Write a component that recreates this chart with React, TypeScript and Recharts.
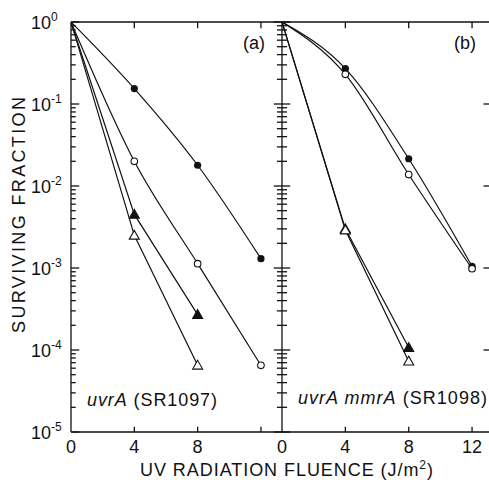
import React from 'react';
import { LineChart, Line, XAxis, YAxis, ReferenceLine } from 'recharts';

// UV fluence (J/m2)
const fluence = [0, 4, 8, 12];
const fluenceShort = [0, 4, 8];

// panel (a) uvrA (SR1097)
const aFilledCircle = [1, 0.154, 0.0179, 0.0013];
const aOpenCircle = [1, 0.02, 0.00113, 0.000065];
const aFilledTriangle = [1, 0.0045, 0.00027];
const aOpenTriangle = [1, 0.0025, 0.000065];

// panel (b) uvrA mmrA (SR1098)
const bFilledCircle = [1, 0.27, 0.0215, 0.00105];
const bOpenCircle = [1, 0.23, 0.0138, 0.00098];
const bFilledTriangle = [1, 0.003, 0.000107];
const bOpenTriangle = [1, 0.0029, 0.000073];

const decades = [1e-5, 1e-4, 1e-3, 1e-2, 1e-1, 1];
const innerDecades = [1e-4, 1e-3, 1e-2, 1e-1];
const xLabelsA = [0, 4, 8];
const xLabelsB = [0, 4, 8, 12];
const edgeTicks = [4, 8, 12];

const minorTicks: number[] = [];
decades.forEach((d) => {
  if (d < 1) for (let m = 2; m <= 9; m++) minorTicks.push(+(d * m).toPrecision(3));
});

const INK = '#111';
const FONT = '"Liberation Sans", Arial, sans-serif';
const X_MAX_A = 13.33;
const X_MAX_B = 13.07;
const Y_DOMAIN: [number, number] = [1e-5, 1];

const toData = (xs: number[], ys: number[]) => xs.map((x, i) => ({ x, y: ys[i] }));

type Kind = 'fc' | 'oc' | 'ft' | 'ot';

const makeDot = (kind: Kind) => (props: any) => {
  const { cx, cy, payload, index } = props;
  const key = `${kind}-${index}`;
  if (payload.x === 0 || cx == null || cy == null) return <g key={key} />;
  if (kind === 'fc') return <circle key={key} cx={cx} cy={cy} r={3.6} fill={INK} />;
  if (kind === 'oc')
    return <circle key={key} cx={cx} cy={cy} r={3.3} fill="#fff" stroke={INK} strokeWidth={1.1} />;
  const s = 5;
  const pts = `${cx},${cy - s} ${cx - s},${cy + s * 0.75} ${cx + s},${cy + s * 0.75}`;
  return (
    <polygon key={key} points={pts} fill={kind === 'ft' ? INK : '#fff'} stroke={INK} strokeWidth={1.1} />
  );
};

const DecadeLabel = (props: any) => {
  const { x, y, payload } = props;
  return (
    <text x={x - 40} y={y + 7} fontSize={18} fill={INK} stroke="none" fontFamily={FONT}>
      10
      <tspan dy={-8} fontSize={12}>
        {Math.round(Math.log10(payload.value))}
      </tspan>
    </text>
  );
};

const makeXLabel = (labels: number[]) => (props: any) => {
  const { x, y, payload } = props;
  if (!labels.includes(payload.value)) return <g />;
  return (
    <text x={x} y={y + 21} textAnchor="middle" fontSize={18} fill={INK} stroke="none" fontFamily={FONT}>
      {payload.value}
    </text>
  );
};

const lineProps = {
  dataKey: 'y',
  stroke: INK,
  strokeWidth: 1.2,
  isAnimationActive: false,
  activeDot: false as const,
};

const axisLine = { stroke: INK, strokeWidth: 1.3 };

// short tick segments in data units, drawn through the chart's own scales
const hTick = (key: string, y: number, x0: number, x1: number) => (
  <ReferenceLine
    key={key}
    segment={[{ x: x0, y }, { x: x1, y }]}
    stroke={INK}
    strokeWidth={1.3}
    ifOverflow="visible"
  />
);
const vTick = (key: string, x: number, y0: number, y1: number) => (
  <ReferenceLine
    key={key}
    segment={[{ x, y: y0 }, { x, y: y1 }]}
    stroke={INK}
    strokeWidth={1.3}
    ifOverflow="visible"
  />
);

const frameTicks = (p: string) => [
  ...edgeTicks.map((t) => vTick(`${p}top${t}`, t, 1, 0.84)),
  ...edgeTicks.map((t) => vTick(`${p}bot${t}`, t, 1e-5, 1.16e-5)),
];

export default function App() {
  return (
    <div style={{ position: 'absolute', left: 0, top: 0, width: 489, height: 480, background: '#fff' }}>
      {/* panel (a) */}
      <div style={{ position: 'absolute', left: 0, top: 0 }}>
        <LineChart width={283} height={480} margin={{ top: 22, right: 1, bottom: 18, left: 0 }}>
          <XAxis
            dataKey="x"
            type="number"
            domain={[0, X_MAX_A]}
            ticks={xLabelsA}
            interval={0}
            tickSize={0}
            tickMargin={0}
            height={30}
            allowDataOverflow
            axisLine={axisLine}
            tickLine={false}
            tick={makeXLabel(xLabelsA)}
          />
          <YAxis
            scale="log"
            type="number"
            domain={Y_DOMAIN}
            ticks={decades}
            interval={0}
            width={71}
            tickSize={0}
            tickMargin={0}
            allowDataOverflow
            axisLine={axisLine}
            tickLine={false}
            tick={DecadeLabel}
          />
          <ReferenceLine y={1} stroke={INK} strokeWidth={1.3} ifOverflow="visible" />
          {decades.map((v) => hTick(`aL${v}`, v, 0, 0.52))}
          {minorTicks.map((v) => hTick(`aLm${v}`, v, 0, 0.3))}
          {decades.map((v) => hTick(`aR${v}`, v, X_MAX_A - 0.52, X_MAX_A))}
          {minorTicks.map((v) => hTick(`aRm${v}`, v, X_MAX_A - 0.32, X_MAX_A))}
          {frameTicks('a')}
          <Line {...lineProps} data={toData(fluence, aFilledCircle)} type="monotone" dot={makeDot('fc')} />
          <Line {...lineProps} data={toData(fluence, aOpenCircle)} type="monotone" dot={makeDot('oc')} />
          <Line {...lineProps} data={toData(fluenceShort, aFilledTriangle)} type="linear" dot={makeDot('ft')} />
          <Line {...lineProps} data={toData(fluenceShort, aOpenTriangle)} type="linear" dot={makeDot('ot')} />
        </LineChart>
      </div>

      {/* panel (b) */}
      <div style={{ position: 'absolute', left: 272, top: 0 }}>
        <LineChart width={217} height={480} margin={{ top: 22, right: 0, bottom: 18, left: 0 }}>
          <XAxis
            dataKey="x"
            type="number"
            domain={[0, X_MAX_B]}
            ticks={xLabelsB}
            interval={0}
            tickSize={0}
            tickMargin={0}
            height={30}
            allowDataOverflow
            axisLine={axisLine}
            tickLine={false}
            tick={makeXLabel(xLabelsB)}
          />
          <YAxis
            scale="log"
            type="number"
            domain={Y_DOMAIN}
            ticks={decades}
            width={10}
            allowDataOverflow
            axisLine={axisLine}
            tickLine={false}
            tick={false}
          />
          <ReferenceLine y={1} stroke={INK} strokeWidth={1.3} ifOverflow="visible" />
          {decades.map((v) => hTick(`bL${v}`, v, 0, 0.52))}
          {minorTicks.map((v) => hTick(`bLm${v}`, v, 0, 0.32))}
          {innerDecades.map((v) => hTick(`bR${v}`, v, X_MAX_B - 0.35, X_MAX_B))}
          {frameTicks('b')}
          <Line {...lineProps} data={toData(fluence, bFilledCircle)} type="monotone" dot={makeDot('fc')} />
          <Line {...lineProps} data={toData(fluence, bOpenCircle)} type="monotone" dot={makeDot('oc')} />
          <Line {...lineProps} data={toData(fluenceShort, bFilledTriangle)} type="linear" dot={makeDot('ft')} />
          <Line {...lineProps} data={toData(fluenceShort, bOpenTriangle)} type="linear" dot={makeDot('ot')} />
        </LineChart>
      </div>

      {/* titles and annotations */}
      <svg
        width={489}
        height={480}
        style={{ position: 'absolute', left: 0, top: 0, pointerEvents: 'none' }}
        fontFamily={FONT}
        fill={INK}
      >
        <text x={25} y={215} fontSize={18} textAnchor="middle" transform="rotate(-90 25 215)" textLength={236} lengthAdjust="spacing">
          SURVIVING FRACTION
        </text>
        <text x={140} y={476} fontSize={18} textLength={293} lengthAdjust="spacing">
          UV RADIATION FLUENCE (J/m<tspan dy={-7} fontSize={12}>2</tspan>
          <tspan dy={7}>)</tspan>
        </text>
        <text x={254} y={49} fontSize={18} textAnchor="middle">
          (a)
        </text>
        <text x={465} y={49} fontSize={18} textAnchor="middle">
          (b)
        </text>
        <text x={87} y={406} fontSize={18} textLength={130} lengthAdjust="spacing">
          <tspan fontStyle="italic">uvrA</tspan> (SR1097)
        </text>
        <text x={298} y={404} fontSize={18} textLength={189} lengthAdjust="spacing">
          <tspan fontStyle="italic">uvrA mmrA</tspan> (SR1098)
        </text>
      </svg>
    </div>
  );
}
